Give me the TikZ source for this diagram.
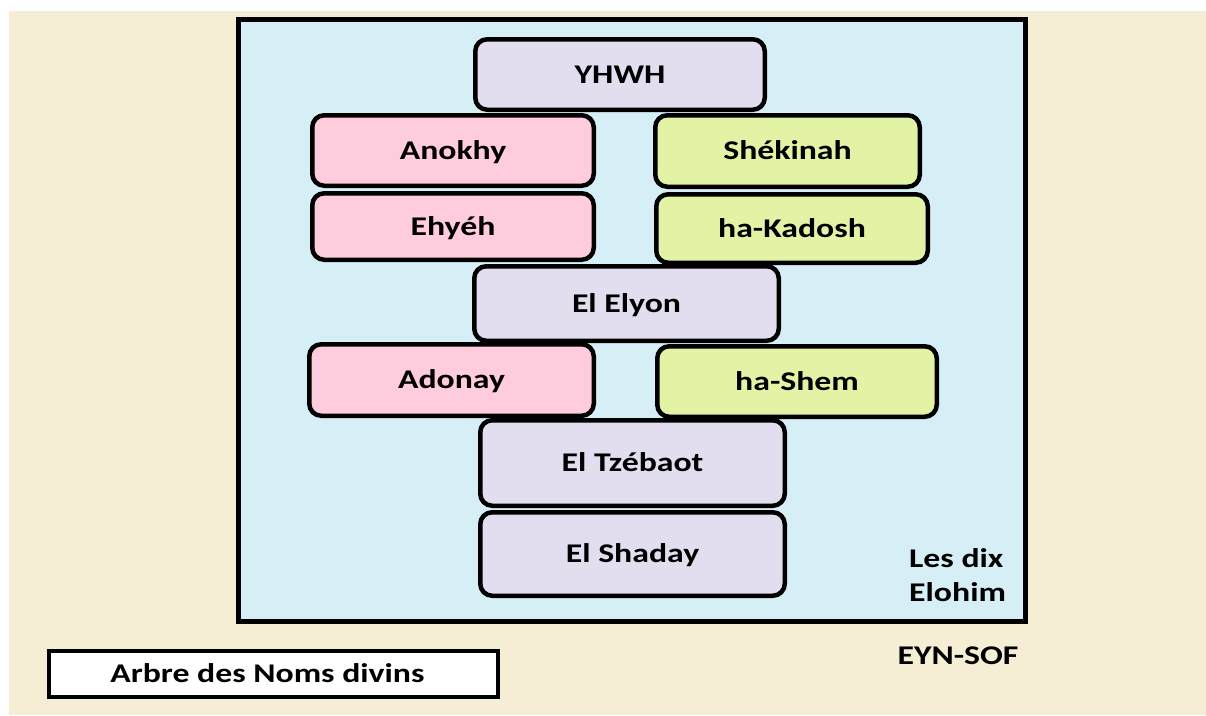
\documentclass[tikz,border=0pt]{standalone}
\usepackage{fontspec}
\setmainfont{Carlito}[FakeStretch=1.25]
\definecolor{beige}{RGB}{245,238,212}
\definecolor{skyfill}{RGB}{214,238,246}
\definecolor{lav}{RGB}{226,222,240}
\definecolor{pinkf}{RGB}{255,204,221}
\definecolor{greenf}{RGB}{227,243,166}
\tikzset{
  namebox/.style={draw=black, line width=4.5pt, rounded corners=12pt, font=\bfseries\fontsize{27}{30}\selectfont, text height=17pt, text depth=0pt, inner sep=0pt},
  lavbox/.style={namebox, fill=lav},
  pinkbox/.style={namebox, fill=pinkf},
  greenbox/.style={namebox, fill=greenf},
  lbl/.style={font=\bfseries\fontsize{27}{34}\selectfont, inner sep=0pt}
}
\begin{document}
\begin{tikzpicture}[x=1pt,y=-1pt]
\useasboundingbox (0,0) rectangle (1206,715);
\fill[white] (0,0) rectangle (1206,715);
\fill[beige] (9,11) rectangle (1206,715);
\node[draw=black, line width=5pt, fill=skyfill, minimum width=787pt, minimum height=602pt, inner sep=0pt] (frame) at (632,320.5) {};
\node[lavbox, minimum width=289.5pt, minimum height=70.5pt] (yhwh) at (620,74.5) {YHWH};
\node[pinkbox, minimum width=281.5pt, minimum height=70.5pt] (anokhy) at (453,150.5) {Anokhy};
\node[pinkbox, minimum width=281.5pt, minimum height=66.5pt] (ehyeh) at (453,226.5) {Ehyéh};
\node[greenbox, minimum width=264.5pt, minimum height=71.5pt] (shekinah) at (787.5,151) {Shékinah};
\node[greenbox, minimum width=271.5pt, minimum height=68.5pt] (kadosh) at (792,228.5) {ha-Kadosh};
\node[lavbox, minimum width=304.5pt, minimum height=74.5pt] (elyon) at (626.5,303.5) {El Elyon};
\node[pinkbox, minimum width=284.5pt, minimum height=71.5pt] (adonay) at (451.5,380) {Adonay};
\node[greenbox, minimum width=279.5pt, minimum height=70.5pt] (shem) at (797,381.5) {ha-Shem};
\node[lavbox, minimum width=304.5pt, minimum height=85.5pt] (tzebaot) at (632.5,463) {El Tzébaot};
\node[lavbox, minimum width=304.5pt, minimum height=83.5pt] (shaday) at (632.5,554) {El Shaday};
\node[lbl, align=left, anchor=north west] (elohim) at (909,548) {Les dix\\Elohim};
\node[lbl, text height=17pt, text depth=0pt] (eynsof) at (958,656) {EYN-SOF};
\node[draw=black, line width=4pt, fill=white, minimum width=449pt, minimum height=46pt, inner sep=0pt, font=\bfseries\fontsize{27}{30}\selectfont, text height=17pt, text depth=0pt] (title) at (273.5,674) {\hspace*{-12pt}Arbre des Noms divins};
\end{tikzpicture}
\end{document}
